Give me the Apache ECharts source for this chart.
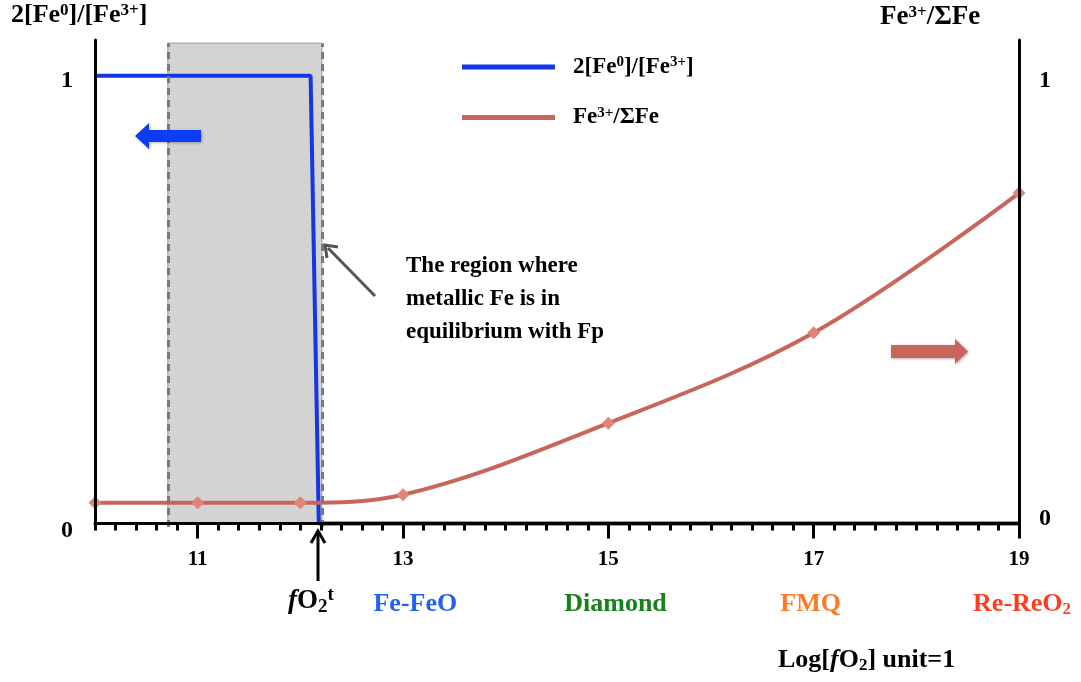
<!DOCTYPE html>
<html><head><meta charset="utf-8">
<script src="https://cdn.jsdelivr.net/npm/echarts@6/dist/echarts.min.js"></script>
<style>html,body{margin:0;padding:0;background:#fff}#c{width:1081px;height:682px}</style>
</head><body><div id="c"></div>
<script>
// ---- data ----
const xMajorTicks = [11, 13, 15, 17, 19];
const yTicks = [0, 1];
const blueName = '2[Fe0]/[Fe3+]';
const redName = 'Fe3+/ΣFe';
const blueX = [10, 12.1, 12.18, 19];
const blueY = [1, 1, 0, 0];
const redX = [10, 11, 12, 13, 15, 17, 19];
const redY = [0.046, 0.046, 0.046, 0.064, 0.224, 0.426, 0.738];
const metalRegion = [10.71, 12.21];   // shaded x-range
const bufferNames = ['Fe-FeO', 'Diamond', 'FMQ', 'Re-ReO2'];
const bufferX = [13.12, 15.07, 16.97, 19.03];

// ---- styles ----
const FONT = 'Liberation Serif';
const bufferColors = ['#2461f0', '#17801a', '#ff7a26', '#ff3d1f'];
function mk(size, extra) { return Object.assign({fontFamily: FONT, fontWeight: 'bold', fontSize: size, color: '#000', fill: '#000'}, extra || {}); }
const richTitle = {t: mk(26), sup: mk(17, {padding: [0,0,10,0]})};
const richTitleR = {t: mk(27), sup: mk(17, {padding: [0,0,10,0]})};
const richLegend = {t: mk(23), sup: mk(15, {padding: [0,0,9,0]})};
const richBig = {
  it: mk(27, {fontStyle: 'italic'}), b: mk(27), sub: mk(19, {padding: [12,0,0,0]}), sup: mk(19, {padding: [0,0,12,0]}),
  lb: mk(26), lit: mk(26, {fontStyle: 'italic'}), lsub: mk(17, {padding: [11,0,0,0]})
};
function fmtName(n) {
  if (n === blueName) return '{t|2[Fe}{sup|0}{t|]/[Fe}{sup|3+}{t|]}';
  return '{t|Fe}{sup|3+}{t|/ΣFe}';
}

const chart = echarts.init(document.getElementById('c'));
const blueData = blueX.map((x, i) => [x, blueY[i]]);
const redData = redX.map((x, i) => [x, redY[i]]);

const grid = {left: 95, right: 62, top: 40, bottom: 155};
const yMin = -0.008, yMax = 1.08;

const graphics = [
  {type: 'text', left: 11, top: 2, z: 100, style: {text: fmtName(blueName), rich: richTitle}},
  {type: 'text', left: 880, top: 4, z: 100, style: {text: fmtName(redName), rich: richTitleR}},
  // blue left arrow
  {type: 'polygon', z: 100, shape: {points: [[135,136],[149,123],[149,130],[201,130],[201,142],[149,142],[149,149]]},
   style: {fill: '#0c3df2', shadowBlur: 3, shadowColor: 'rgba(0,0,0,0.3)', shadowOffsetX: 1, shadowOffsetY: 1}},
  // red right arrow
  {type: 'polygon', z: 100, shape: {points: [[891,345],[955,345],[955,339],[968,351.5],[955,364],[955,358],[891,358]]},
   style: {fill: '#c9665c', shadowBlur: 3, shadowColor: 'rgba(0,0,0,0.3)', shadowOffsetX: 1, shadowOffsetY: 1}},
  // annotation arrow (gray)
  {type: 'line', z: 100, shape: {x1: 375, y1: 296, x2: 328, y2: 248}, style: {stroke: '#555', lineWidth: 3}},
  {type: 'polyline', z: 100, shape: {points: [[327,258],[325,245],[338,247]]}, style: {stroke: '#555', lineWidth: 3, fill: null}},
  {type: 'text', z: 100, left: 406, top: 250, style: {text: 'The region where\nmetallic Fe is in\nequilibrium with Fp',
    fontFamily: FONT, fontWeight: 'bold', fontSize: 23, lineHeight: 33, fill: '#000'}},
  // fO2t arrow
  {type: 'line', z: 100, shape: {x1: 318, y1: 581, x2: 318, y2: 533}, style: {stroke: '#000', lineWidth: 3}},
  {type: 'polyline', z: 100, shape: {points: [[311,543],[318,531],[325,543]]}, style: {stroke: '#000', lineWidth: 3, fill: null}},
  {type: 'text', z: 100, left: 288, top: 586, style: {text: '{it|f}{b|O}{sub|2}{sup|t}', rich: richBig}},
  {type: 'text', z: 100, left: 778, top: 647, style: {text: '{lb|Log[}{lit|f}{lb|O}{lsub|2}{lb|] unit=1}', rich: richBig}}
];

const yLabelRich = {
  l0: mk(24, {padding: [14,0,0,0]}), l1: mk(24, {padding: [10,0,0,0]}),
  r0: mk(24, {padding: [0,0,10,0]}), r1: mk(24, {padding: [10,0,0,0]})
};

const option = {
  animation: false,
  backgroundColor: '#fff',
  grid: grid,
  legend: {
    left: 457, top: 50, orient: 'vertical', itemWidth: 93, itemHeight: 5, itemGap: 27,
    icon: 'rect', formatter: fmtName, textStyle: {rich: richLegend, padding: [0,0,0,13]},
    data: [{name: blueName, itemStyle: {color: '#1535e6'}}, {name: redName, itemStyle: {color: '#c9665c'}}]
  },
  xAxis: [
    {type: 'value', min: 10, max: 19, position: 'bottom', z: 10,
     axisLine: {lineStyle: {color: '#000', width: 3}},
     axisTick: {customValues: xMajorTicks, length: 15, lineStyle: {color: '#000', width: 3}},
     axisLabel: {customValues: xMajorTicks, margin: 22, fontFamily: FONT, fontWeight: 'bold', fontSize: 21, color: '#000'},
     splitLine: {show: false}},
    {type: 'value', min: 10, max: 19, interval: 0.2, position: 'bottom', z: 10,
     axisLine: {show: false},
     axisTick: {length: 7, lineStyle: {color: '#000', width: 3}},
     axisLabel: {show: false}, splitLine: {show: false}}
  ],
  yAxis: [
    {type: 'value', min: yMin, max: yMax, position: 'left', z: 10,
     axisLine: {show: true, lineStyle: {color: '#000', width: 3}},
     axisTick: {show: false},
     axisLabel: {customValues: yTicks, margin: 22, formatter: v => v === 0 ? '{l0|0}' : '{l1|1}', rich: yLabelRich},
     splitLine: {show: false}},
    {type: 'value', min: yMin, max: yMax, position: 'right', z: 10,
     axisLine: {show: true, lineStyle: {color: '#000', width: 3}},
     axisTick: {show: false},
     axisLabel: {customValues: yTicks, margin: 20, formatter: v => v === 0 ? '{r0|0}' : '{r1|1}', rich: yLabelRich},
     splitLine: {show: false}}
  ],
  series: [
    {name: blueName, type: 'line', xAxisIndex: 0, yAxisIndex: 0, data: blueData, showSymbol: false, symbol: 'none',
     lineStyle: {color: '#1535e6', width: 4}, itemStyle: {color: '#1535e6'}, z: 3,
     markArea: {silent: true, itemStyle: {color: '#d3d3d3', borderColor: '#9a9a9a', borderWidth: 1},
       data: [[{coord: [metalRegion[0], 0]}, {coord: [metalRegion[1], 1.073]}]]},
     markLine: {silent: true, symbol: 'none', label: {show: false},
       lineStyle: {color: '#7a7a7a', width: 3, type: [7, 5]},
       data: [[{coord: [metalRegion[0], yMin]}, {coord: [metalRegion[0], 1.073]}],
              [{coord: [metalRegion[1], yMin]}, {coord: [metalRegion[1], 1.073]}]]}},
    {name: redName, type: 'line', xAxisIndex: 0, yAxisIndex: 1, data: redData, smooth: 0.35,
     symbol: 'diamond', symbolSize: 13, itemStyle: {color: '#e2837a'},
     lineStyle: {color: '#c9665c', width: 4}, z: 4}
  ]
};
chart.setOption(option);
// buffer labels positioned through the x scale
const gAdd = bufferNames.map((n, i) => {
  const px = chart.convertToPixel({xAxisIndex: 0}, bufferX[i]);
  const txt = n === 'Re-ReO2' ? '{r|Re-ReO}{rs|2}' : '{r|' + n + '}';
  const c = bufferColors[i];
  return {type: 'text', silent: true, z: 100, x: px, y: 604,
    style: {text: txt, align: 'center', verticalAlign: 'middle', fill: c,
      rich: {r: mk(26, {color: c, fill: c}), rs: mk(17, {color: c, fill: c, padding: [12,0,0,0]})}}};
});
chart.setOption({graphic: graphics.concat(gAdd)});
</script></body></html>
